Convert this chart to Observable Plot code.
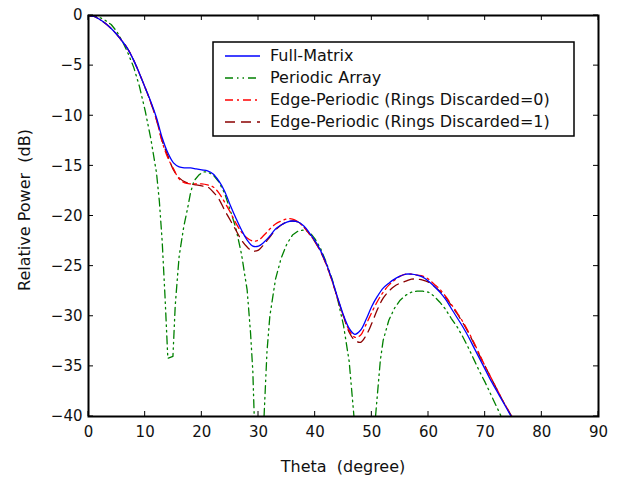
<!DOCTYPE html>
<html><head><meta charset="utf-8">
<script src="https://cdn.jsdelivr.net/npm/d3@7"></script>
<script src="https://cdn.jsdelivr.net/npm/@observablehq/plot@0.6"></script>
<style>
body{margin:0;background:#fff}
#chart{position:relative;width:626px;height:479px}
</style>
</head><body><div id="chart"></div>
<script>
// ---- data ----
const xTicks = [0, 10, 20, 30, 40, 50, 60, 70, 80, 90];
const yTicks = [0, -5, -10, -15, -20, -25, -30, -35, -40];
const seriesNames = ["Full-Matrix", "Periodic Array", "Edge-Periodic (Rings Discarded=0)", "Edge-Periodic (Rings Discarded=1)"];

const thetaGrid = [0,1,2,3,4,5,6,7,8,9,10,11,12,13,14,15,16,17,18,19,20,21,22,23,24,25,26,27,28,29,30,31,32,33,34,35,36,37,38,39,40,41,42,43,44,45,46,47,48,49,50,51,52,53,54,55,56,57,58,59,60,61,62,63,64,65,66,67,68,69,70,71,72,73,74,75];
const dbFull = [0,-0.1,-0.4,-0.8,-1.3,-1.9,-2.6,-3.4,-4.5,-5.8,-7.2,-8.6,-10.2,-12.2,-13.7,-14.7,-15.1,-15.2,-15.2,-15.3,-15.4,-15.5,-15.8,-16.5,-17.5,-18.9,-20.2,-21.4,-22.4,-23.0,-23.0,-22.6,-22.0,-21.3,-20.9,-20.6,-20.5,-20.6,-21.0,-21.7,-22.5,-23.5,-24.8,-26.4,-28.2,-29.9,-31.2,-31.8,-31.4,-30.3,-29.0,-28.0,-27.2,-26.7,-26.3,-26.0,-25.8,-25.8,-25.9,-26.1,-26.5,-27.0,-27.6,-28.3,-29.2,-30.1,-31.0,-32.0,-33.1,-34.2,-35.3,-36.4,-37.4,-38.4,-39.4,-40.4];
const dbEdge0 = [0,-0.1,-0.4,-0.8,-1.3,-1.9,-2.6,-3.4,-4.5,-5.8,-7.2,-8.7,-10.4,-12.6,-14.2,-15.3,-16.3,-16.7,-16.8,-16.8,-16.8,-16.9,-17.1,-17.7,-18.6,-19.6,-20.7,-21.6,-22.2,-22.5,-22.4,-21.9,-21.3,-20.8,-20.5,-20.3,-20.3,-20.6,-21.1,-21.8,-22.6,-23.6,-24.9,-26.5,-28.3,-30.0,-31.4,-32.1,-31.9,-30.8,-29.6,-28.5,-27.6,-26.9,-26.4,-26.0,-25.8,-25.8,-25.9,-26.0,-26.3,-26.8,-27.3,-28.0,-28.8,-29.6,-30.5,-31.5,-32.6,-33.8,-35.0,-36.1,-37.2,-38.3,-39.3,-40.3];
const dbEdge1 = [0,-0.1,-0.4,-0.8,-1.3,-1.9,-2.6,-3.4,-4.5,-5.8,-7.2,-8.7,-10.4,-12.5,-14.0,-15.4,-16.2,-16.6,-16.8,-16.9,-17.0,-17.1,-17.6,-18.3,-19.4,-20.4,-21.4,-22.4,-23.1,-23.5,-23.4,-22.8,-22.1,-21.4,-20.9,-20.6,-20.5,-20.6,-21.1,-21.8,-22.6,-23.6,-24.9,-26.5,-28.3,-30.0,-31.6,-32.4,-32.6,-31.9,-30.7,-29.3,-28.2,-27.5,-27.0,-26.7,-26.5,-26.3,-26.3,-26.4,-26.6,-27.0,-27.5,-28.1,-28.9,-29.7,-30.6,-31.6,-32.7,-33.9,-35.0,-36.1,-37.2,-38.3,-39.3,-40.3];

const thetaPeriodic = [0,1,2,3,4,5,6,7,8,9,10,11,12,12.5,13,13.5,14,14.9,15.3,15.6,16,16.8,17.5,18,18.6,19.5,20.3,21,22,23,24,25,26,27,28,28.6,29,29.3,30.9,31.5,32,33,34,35,36,37,38,39,40,41,42,43,44,45,46,47,50.5,51.5,52,53,54,55,56,57,58,59,60,61,62,63,64,65,66,67,68,69,70,71,72,73];
const dbPeriodic = [0,-0.05,-0.2,-0.5,-0.9,-1.6,-2.6,-3.8,-5.2,-7.1,-9.5,-12.3,-15.7,-18.5,-22.5,-28,-34.2,-34.0,-29,-26.8,-24.0,-21.1,-19.2,-17.7,-16.5,-15.9,-15.6,-15.6,-15.9,-16.6,-17.7,-19.4,-21.2,-23.8,-27.4,-31.7,-35.5,-41,-41,-33.5,-30,-26.3,-24.2,-22.8,-21.9,-21.5,-21.4,-21.6,-22.3,-23.3,-24.7,-26.3,-28.4,-30.9,-34.5,-41,-41,-34.4,-32.4,-30.4,-29.2,-28.4,-27.9,-27.6,-27.5,-27.5,-27.6,-28.0,-28.6,-29.3,-30.2,-31.0,-32.0,-33.1,-34.3,-35.5,-36.6,-37.8,-39.0,-40.2];

const colors = ["#0000ff", "#008000", "#ff0000", "#8b0000"];
const dashes = [null, "8,4,1.5,4,1.5,4", "8,4,2,4", "10,6"];

const toRows = (t, v) => t.map((d, i) => ({theta: d, db: v[i]}));
const full = toRows(thetaGrid, dbFull);
const periodic = toRows(thetaPeriodic, dbPeriodic);
const edge0 = toRows(thetaGrid, dbEdge0);
const edge1 = toRows(thetaGrid, dbEdge1);

const W = 626, H = 479, mL = 88, mR = 28, mT = 15, mB = 63;
const FONT = "DejaVu Sans, Verdana, sans-serif";

const plot = Plot.plot({
  width: W, height: H,
  marginLeft: mL, marginRight: mR, marginTop: mT, marginBottom: mB,
  style: {fontFamily: FONT, fontSize: "15px", color: "#111", background: "#fff"},
  x: {domain: [0, 90], label: null},
  y: {domain: [-40, 0], label: null},
  marks: [
    Plot.line(periodic, {x: "theta", y: "db", stroke: colors[1], strokeWidth: 1.3, strokeDasharray: dashes[1], clip: true}),
    Plot.line(edge1, {x: "theta", y: "db", stroke: colors[3], strokeWidth: 1.3, strokeDasharray: dashes[3], curve: "catmull-rom", clip: true}),
    Plot.line(edge0, {x: "theta", y: "db", stroke: colors[2], strokeWidth: 1.3, strokeDasharray: dashes[2], curve: "catmull-rom", clip: true}),
    Plot.line(full, {x: "theta", y: "db", stroke: colors[0], strokeWidth: 1.3, curve: "catmull-rom", clip: true}),
    Plot.axisX({ticks: xTicks, anchor: "bottom", tickSize: 0, tickPadding: 10, label: null}),
    Plot.axisY({ticks: yTicks, anchor: "left", tickSize: 0, tickPadding: 6, label: null}),
    Plot.frame({stroke: "#000", strokeWidth: 2})
  ]
});

document.getElementById("chart").appendChild(plot);

// inward ticks on all four sides, via the plot's own scales
const sx = plot.scale("x"), sy = plot.scale("y");
const svg = d3.select(plot);
const g = svg.append("g").attr("stroke", "#000").attr("stroke-width", 1);
const x0 = mL, x1 = W - mR, y0 = mT, y1 = H - mB, tl = 5;
xTicks.forEach(t => {
  const px = sx.apply(t);
  g.append("line").attr("x1", px).attr("x2", px).attr("y1", y1).attr("y2", y1 - tl);
  g.append("line").attr("x1", px).attr("x2", px).attr("y1", y0).attr("y2", y0 + tl);
});
yTicks.forEach(t => {
  const py = sy.apply(t);
  g.append("line").attr("y1", py).attr("y2", py).attr("x1", x0).attr("x2", x0 + tl);
  g.append("line").attr("y1", py).attr("y2", py).attr("x1", x1).attr("x2", x1 - tl);
});

// axis titles
svg.append("text").text("Theta  (degree)")
  .attr("x", (x0 + x1) / 2).attr("y", 467)
  .attr("text-anchor", "middle").attr("dominant-baseline", "middle")
  .style("white-space", "pre").attr("font-family", FONT).attr("font-size", 16).attr("fill", "#111");
svg.append("text").text("Relative Power  (dB)")
  .attr("transform", "translate(25,210) rotate(-90)")
  .attr("text-anchor", "middle").attr("dominant-baseline", "middle")
  .style("white-space", "pre").attr("font-family", FONT).attr("font-size", 16).attr("fill", "#111");

// legend
const lg = svg.append("g");
lg.append("rect").attr("x", 213).attr("y", 42).attr("width", 361).attr("height", 94)
  .attr("fill", "#fff").attr("stroke", "#000").attr("stroke-width", 1.5);
seriesNames.forEach((name, i) => {
  const yy = 56 + i * 22;
  const ln = lg.append("line").attr("x1", 225).attr("x2", 260).attr("y1", yy).attr("y2", yy)
    .attr("stroke", colors[i]).attr("stroke-width", 1.3);
  if (dashes[i]) ln.attr("stroke-dasharray", dashes[i]);
  lg.append("text").text(name).attr("x", 270).attr("y", yy)
    .attr("text-anchor", "start").attr("dominant-baseline", "middle")
    .attr("font-family", FONT).attr("font-size", 16).attr("fill", "#111");
});
</script>
</body></html>
